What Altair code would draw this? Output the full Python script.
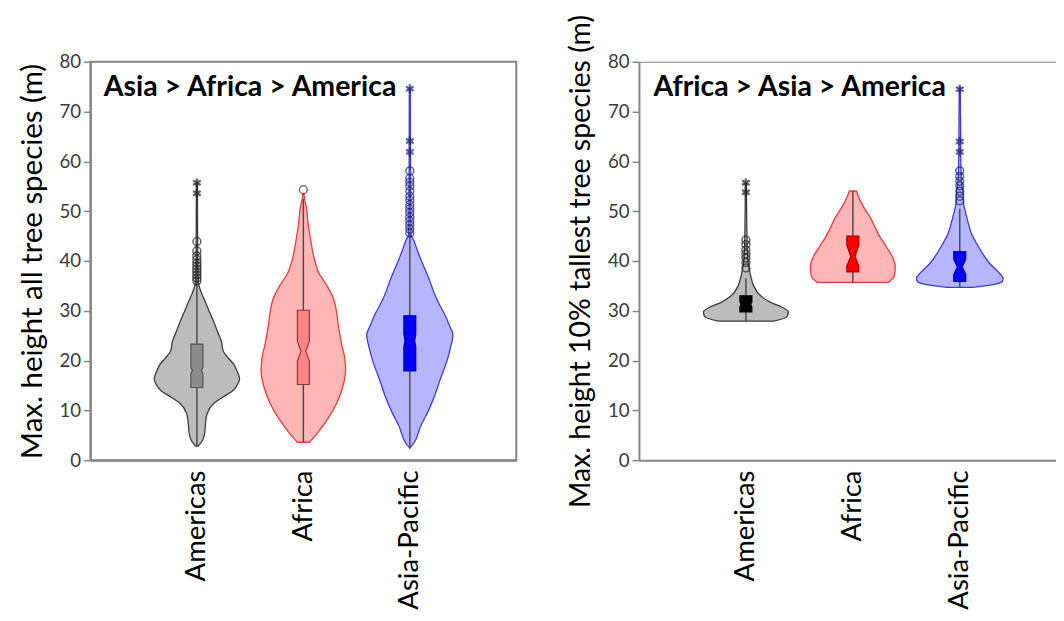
import altair as alt
import pandas as pd

FONT = "Lato"
REGIONS = ["Americas", "Africa", "Asia-Pacific"]
POSITIONS = [1, 2, 3]
Y_TICKS = [0, 10, 20, 30, 40, 50, 60, 70, 80]
Y_TITLES = ["Max. height all tree species (m)", "Max. height 10% tallest tree species (m)"]
NOTES = ["Asia > Africa > America", "Africa > Asia > America"]

# ---------- violin outlines: height (m) and relative half-width ----------
A_AM_H = [2.8, 3.8, 5.4, 7.4, 9.4, 11.4, 12.7, 14.0, 15.3, 16.3, 17.9, 19.2, 20.5, 21.9, 23.8, 25.8, 27.8, 29.8, 31.7, 33.7, 35.0, 36.3, 40.0, 55.7]
A_AM_D = [0.03, 0.12, 0.18, 0.20, 0.24, 0.39, 0.61, 0.84, 0.95, 0.99, 0.93, 0.86, 0.73, 0.61, 0.57, 0.48, 0.39, 0.29, 0.20, 0.10, 0.05, 0.03, 0.02, 0.012]
A_AF_H = [3.6, 5.4, 8.1, 11.4, 14.6, 17.9, 20.5, 23.2, 27.1, 29.8, 32.4, 35.0, 37.6, 40.9, 44.2, 47.5, 50.8, 52.1, 53.5]
A_AF_D = [0.14, 0.32, 0.55, 0.77, 0.91, 0.98, 0.96, 0.89, 0.81, 0.77, 0.70, 0.55, 0.36, 0.24, 0.17, 0.11, 0.07, 0.035, 0.012]
A_AS_H = [2.4, 3.5, 6.8, 10.1, 13.3, 16.6, 19.9, 22.5, 25.2, 27.0, 29.1, 31.0, 33.0, 36.3, 39.6, 42.2, 44.2, 45.2, 50.0, 74.7]
A_AS_D = [0.0, 0.10, 0.25, 0.44, 0.59, 0.72, 0.86, 0.94, 1.0, 0.92, 0.82, 0.70, 0.59, 0.45, 0.29, 0.17, 0.09, 0.03, 0.02, 0.012]

B_AM_H = [27.9, 28.8, 29.75, 30.7, 31.7, 33.0, 35.0, 37.0, 38.3, 40.3, 43.0, 55.7]
B_AM_D = [0.64, 0.95, 0.98, 0.84, 0.57, 0.34, 0.18, 0.11, 0.08, 0.045, 0.03, 0.012]
B_AF_H = [35.7, 37.0, 39.0, 40.9, 42.9, 44.9, 46.8, 48.8, 50.8, 52.7, 54.05]
B_AF_D = [0.82, 0.96, 0.98, 0.91, 0.77, 0.62, 0.51, 0.40, 0.25, 0.14, 0.08]
B_AS_H = [34.7, 35.3, 35.9, 36.5, 37.6, 39.6, 41.6, 43.5, 45.5, 47.5, 49.5, 51.4, 54.0, 56.0, 60.0, 74.7]
B_AS_D = [0.30, 0.80, 0.98, 1.0, 0.91, 0.68, 0.52, 0.39, 0.27, 0.20, 0.14, 0.09, 0.07, 0.04, 0.025, 0.012]

# ---------- notched boxes ----------
A_Q1 = [14.6, 15.2, 17.9]
A_NLO = [17.4, 19.9, 22.8]
A_MED = [18.0, 21.9, 24.0]
A_NHI = [18.6, 23.8, 25.2]
A_Q3 = [23.3, 30.1, 29.0]
A_NOTCH = [0.75, 0.4, 0.8]

B_Q1 = [29.75, 37.8, 35.9]
B_NLO = [30.8, 39.0, 37.3]
B_MED = [31.3, 40.9, 38.8]
B_NHI = [31.8, 43.2, 40.3]
B_Q3 = [33.0, 45.0, 41.9]
B_NOTCH = [0.8, 0.35, 0.4]

# ---------- whiskers ----------
A_WLO = [2.8, 3.6, 2.4]
A_WHI = [36.3, 52.5, 45.5]
B_WLO = [27.9, 35.7, 34.7]
B_WHI = [36.5, 54.05, 50.5]

# ---------- outliers (circles) and extreme outliers (asterisks) ----------
A_OUT = [
    [36.0, 36.6, 37.2, 37.8, 38.4, 39.0, 39.6, 40.3, 41.0, 42.0, 43.9],
    [54.3],
    [45.6, 46.4, 47.2, 48.0, 48.8, 49.7, 50.5, 51.3, 52.2, 53.0, 54.0, 55.0, 55.8, 56.6, 58.1],
]
A_EXT = [[53.6, 55.7], [], [61.9, 64.1, 74.6]]
B_OUT = [
    [38.6, 39.7, 40.6, 41.4, 42.2, 43.3, 44.2],
    [],
    [52.1, 53.0, 54.0, 55.1, 56.0, 57.0, 58.1],
]
B_EXT = [[53.8, 55.7], [], [61.9, 64.0, 74.5]]

# ---------- styles ----------
VIOLIN_FILL = ["#bcbcbc", "#ffb6b6", "#b6b6ff"]
VIOLIN_LINE = ["#3a3a3a", "#e83a3a", "#3a3ae0"]
A_BOX_FILL = ["#8c8c8c", "#ff8585", "#0000ff"]
A_BOX_LINE = ["#505050", "#9c3030", "#0000a8"]
B_BOX_FILL = ["#000000", "#ff0000", "#0000ff"]
B_BOX_LINE = ["#000000", "#a00000", "#0000a8"]
OUT_LINE = ["#1e1e1e", "#553030", "#20206e"]
FRAME = "#858585"
VIOLIN_HALF = 0.405
BOX_HALF = 0.056
ASTERISK = "M0,-1L0,1M-0.87,-0.5L0.87,0.5M-0.87,0.5L0.87,-0.5"


def violin_frame(hs, ds):
    rows = []
    for reg, pos, h, d in zip(REGIONS, POSITIONS, hs, ds):
        for hv, dv in zip(h, d):
            rows.append({"region": reg, "pos": pos, "h": hv, "d": dv})
    return pd.DataFrame(rows)


def box_frame(q1, nlo, med, nhi, q3, notch):
    rows = []
    for i, (reg, pos) in enumerate(zip(REGIONS, POSITIONS)):
        for hv, dv in zip([q1[i], nlo[i], med[i], nhi[i], q3[i]], [1, 1, notch[i], 1, 1]):
            rows.append({"region": reg, "pos": pos, "h": hv, "d": dv})
    return pd.DataFrame(rows)


def whisker_frame(lo, hi):
    return pd.DataFrame({"region": REGIONS, "pos": POSITIONS, "lo": lo, "hi": hi})


def point_frame(lists):
    rows = []
    for reg, pos, vals in zip(REGIONS, POSITIONS, lists):
        for v in vals:
            rows.append({"region": reg, "pos": pos, "h": v})
    return pd.DataFrame(rows, columns=["region", "pos", "h"])


label_expr = " : ".join(
    f"datum.value == {p} ? '{r}'" for p, r in zip(POSITIONS[:-1], REGIONS[:-1])
) + f" : '{REGIONS[-1]}'"


def panel(vdf, bdf, wdf, odf, edf, note, note_x, ytitle, title_size, title_y,
          xmax, width, box_fill, box_line, framed):
    xs = alt.Scale(domain=[0, xmax], nice=False, zero=False)
    ys = alt.Scale(domain=[0, 80], nice=False, zero=True)
    xaxis = alt.Axis(values=POSITIONS, labelExpr=label_expr, ticks=False, labelAngle=270,
                     labelFont=FONT, labelFontSize=28, labelColor="black", labelPadding=10,
                     domainColor=FRAME, domainWidth=2, grid=False, title=None)
    yargs = dict(values=Y_TICKS, format="d", tickColor=FRAME, tickSize=7, tickWidth=1.5,
                 labelFont=FONT, labelFontSize=19, labelColor="#3a3a3a", labelPadding=3,
                 domainColor=FRAME, domainWidth=2, grid=False, title=ytitle,
                 titleFont=FONT, titleFontSize=title_size, titleFontWeight="normal",
                 titleColor="black", titlePadding=12)
    if title_y is not None:
        yargs["titleY"] = title_y
    yaxis = alt.Axis(**yargs)

    violin = alt.Chart(vdf).transform_calculate(
        lo=f"datum.pos - datum.d * {VIOLIN_HALF}", hi=f"datum.pos + datum.d * {VIOLIN_HALF}"
    ).mark_area(orient="horizontal", strokeWidth=1.3, interpolate="monotone").encode(
        y=alt.Y("h:Q", scale=ys, axis=yaxis),
        x=alt.X("lo:Q", scale=xs, axis=xaxis, stack=None),
        x2="hi:Q",
        fill=alt.Fill("region:N", scale=alt.Scale(domain=REGIONS, range=VIOLIN_FILL), legend=None),
        stroke=alt.Stroke("region:N", scale=alt.Scale(domain=REGIONS, range=VIOLIN_LINE), legend=None),
        detail="region:N",
    )
    whisker = alt.Chart(wdf).mark_rule(color="#4a4a4a", strokeWidth=1.5).encode(
        x=alt.X("pos:Q", scale=xs, axis=xaxis),
        y=alt.Y("lo:Q", scale=ys, axis=yaxis),
        y2="hi:Q",
    )
    box = alt.Chart(bdf).transform_calculate(
        lo=f"datum.pos - datum.d * {BOX_HALF}", hi=f"datum.pos + datum.d * {BOX_HALF}"
    ).mark_area(orient="horizontal", strokeWidth=1.2).encode(
        y=alt.Y("h:Q", scale=ys, axis=yaxis),
        x=alt.X("lo:Q", scale=xs, axis=xaxis, stack=None),
        x2="hi:Q",
        fill=alt.Fill("region:N", scale=alt.Scale(domain=REGIONS, range=box_fill), legend=None),
        stroke=alt.Stroke("region:N", scale=alt.Scale(domain=REGIONS, range=box_line), legend=None),
        detail="region:N",
    )
    circles = alt.Chart(odf).mark_point(shape="circle", filled=False, size=64, strokeWidth=1.5).encode(
        x=alt.X("pos:Q", scale=xs, axis=xaxis),
        y=alt.Y("h:Q", scale=ys, axis=yaxis),
        stroke=alt.Stroke("region:N", scale=alt.Scale(domain=REGIONS, range=OUT_LINE), legend=None),
    )
    stars = alt.Chart(edf).mark_point(shape=ASTERISK, filled=False, size=80, strokeWidth=2.3).encode(
        x=alt.X("pos:Q", scale=xs, axis=xaxis),
        y=alt.Y("h:Q", scale=ys, axis=yaxis),
        stroke=alt.Stroke("region:N", scale=alt.Scale(domain=REGIONS, range=OUT_LINE), legend=None),
    )
    text = alt.Chart(pd.DataFrame({"t": [note], "x": [note_x], "y": [73.1]})).mark_text(
        align="left", baseline="alphabetic", font=FONT, fontWeight="bold", fontSize=29, color="black"
    ).encode(
        x=alt.X("x:Q", scale=xs, axis=xaxis),
        y=alt.Y("y:Q", scale=ys, axis=yaxis),
        text="t:N",
    )
    layers = [violin, whisker, box, circles, stars, text]
    if not framed:
        top = alt.Chart(pd.DataFrame({"y": [80], "x0": [0], "x1": [4]})).mark_rule(
            color=FRAME, strokeWidth=2, clip=True
        ).encode(
            y=alt.Y("y:Q", scale=ys, axis=yaxis),
            x=alt.X("x0:Q", scale=xs, axis=xaxis),
            x2="x1:Q",
        )
        layers.append(top)
    ch = alt.layer(*layers).resolve_scale(fill="independent", stroke="independent")
    if framed:
        ch = ch.properties(width=width, height=406, view=alt.ViewBackground(stroke=FRAME, strokeWidth=2))
    else:
        ch = ch.properties(width=width, height=406)
    return ch


left = panel(
    violin_frame([A_AM_H, A_AF_H, A_AS_H], [A_AM_D, A_AF_D, A_AS_D]),
    box_frame(A_Q1, A_NLO, A_MED, A_NHI, A_Q3, A_NOTCH),
    whisker_frame(A_WLO, A_WHI),
    point_frame(A_OUT), point_frame(A_EXT),
    NOTES[0], 0.125, Y_TITLES[0], 30, None, 4.0, 434, A_BOX_FILL, A_BOX_LINE, True,
)
right = panel(
    violin_frame([B_AM_H, B_AF_H, B_AS_H], [B_AM_D, B_AF_D, B_AS_D]),
    box_frame(B_Q1, B_NLO, B_MED, B_NHI, B_Q3, B_NOTCH),
    whisker_frame(B_WLO, B_WHI),
    point_frame(B_OUT), point_frame(B_EXT),
    NOTES[1], 0.135, Y_TITLES[1], 29, 203, 3.9, 425, B_BOX_FILL, B_BOX_LINE, False,
)

chart = alt.hconcat(left, right, spacing=50).properties(
    padding={"left": 8, "top": 0, "right": 0, "bottom": 0},
    background="white",
).configure_view(stroke=None).configure_axis(grid=False)

chart.save("out.html", embed_options={"renderer": "svg", "actions": False})
